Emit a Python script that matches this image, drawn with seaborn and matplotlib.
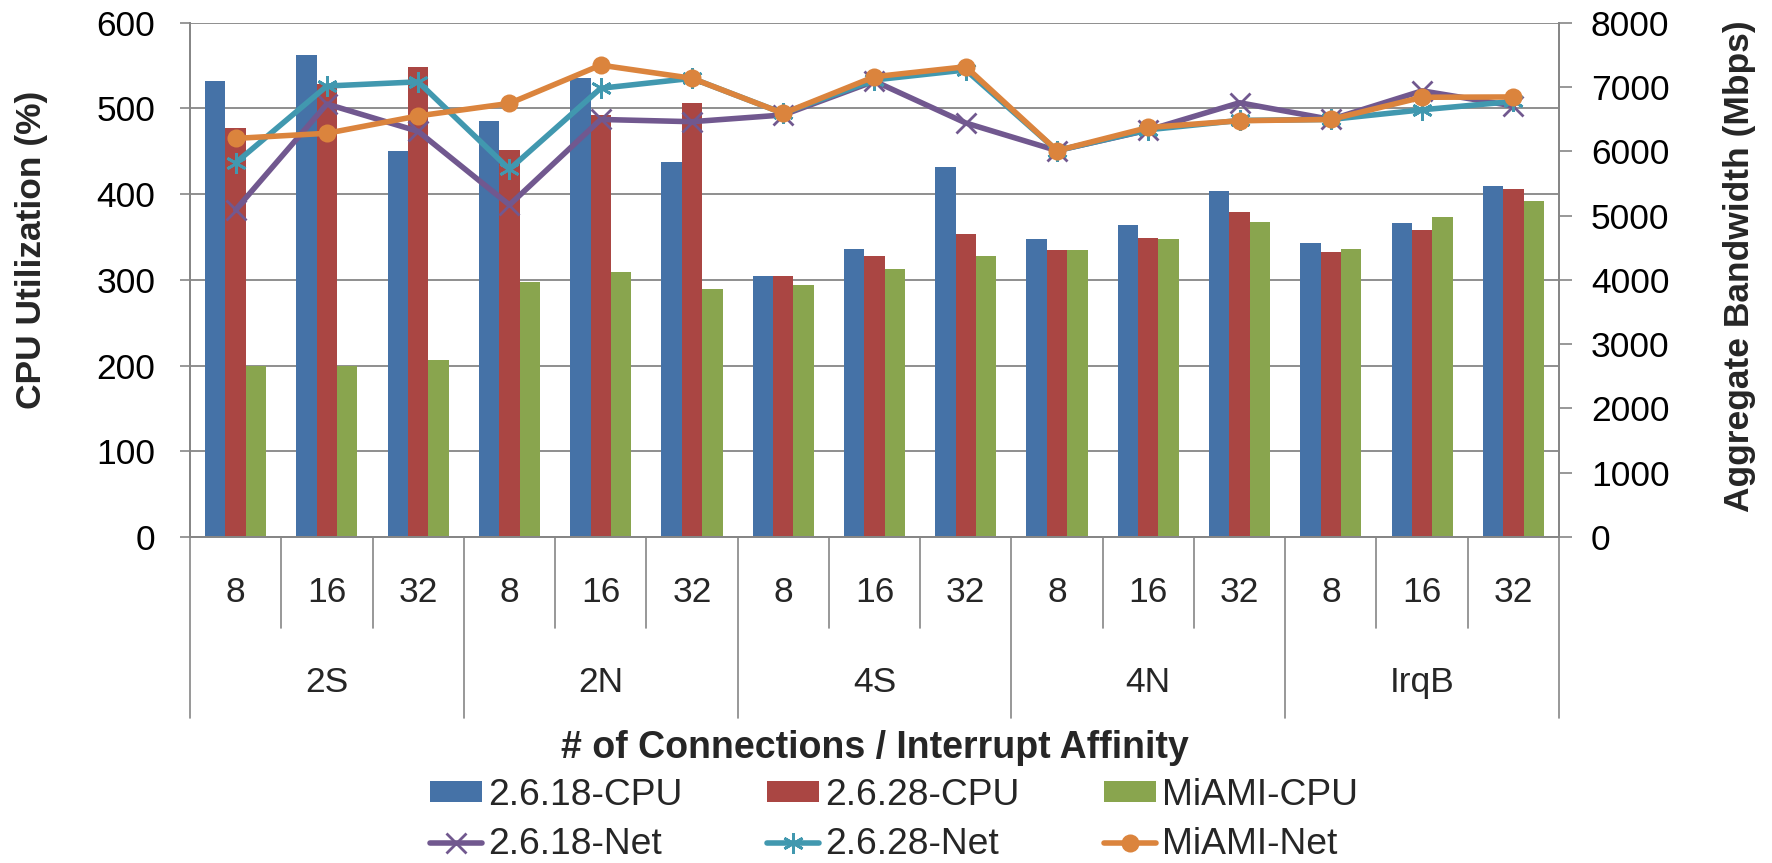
import numpy as np
import pandas as pd
import matplotlib
matplotlib.use("Agg")
import matplotlib.pyplot as plt
import matplotlib.transforms as mtransforms
from matplotlib.lines import Line2D
import seaborn as sns

# ---- data -------------------------------------------------------------
affinity = ["2S", "2N", "4S", "4N", "IrqB"]
connections = ["8", "16", "32"]

cpu_series = ["2.6.18-CPU", "2.6.28-CPU", "MiAMI-CPU"]
cpu_2618 = [532, 562, 450, 485, 535, 437, 304, 336, 432, 348, 364, 404, 343, 366, 410]
cpu_2628 = [477, 529, 548, 452, 492, 506, 305, 328, 353, 335, 349, 379, 332, 358, 406]
cpu_miami = [200, 200, 206, 297, 309, 289, 294, 313, 328, 335, 348, 368, 336, 373, 392]

net_series = ["2.6.18-Net", "2.6.28-Net", "MiAMI-Net"]
net_2618 = [5090, 6735, 6310, 5165, 6495, 6460, 6565, 7090, 6440, 6010, 6330, 6755, 6495, 6940, 6705]
net_2628 = [5820, 7015, 7080, 5720, 6980, 7135, 6590, 7110, 7265, 6010, 6335, 6480, 6495, 6645, 6775]
net_miami = [6200, 6280, 6550, 6745, 7340, 7135, 6590, 7160, 7315, 6010, 6370, 6475, 6495, 6840, 6845]

cpu_ticks = [0, 100, 200, 300, 400, 500, 600]
net_ticks = [0, 1000, 2000, 3000, 4000, 5000, 6000, 7000, 8000]

# ---- styling ----------------------------------------------------------
bar_colors = ["#4572A7", "#AA4643", "#89A54E"]
line_colors = ["#71588F", "#4198AF", "#DB843D"]
line_markers = ["x", (6, 2, 0), "o"]
line_msizes = [15, 15, 13]
grid_gray = "#868686"
FS = 25.5
FS_LEG = 26.8

sns.set_theme(style="white")
plt.rcParams["font.family"] = ["Liberation Sans", "DejaVu Sans"]
plt.rcParams["font.size"] = FS

n_slots = len(affinity) * len(connections)
slots = np.arange(n_slots)

cpu_df = pd.DataFrame({
    "slot": np.tile(slots, 3),
    "value": cpu_2618 + cpu_2628 + cpu_miami,
    "series": np.repeat(cpu_series, n_slots),
})
net_df = pd.DataFrame({
    "slot": np.tile(slots, 3),
    "value": net_2618 + net_2628 + net_miami,
    "series": np.repeat(net_series, n_slots),
})

fig = plt.figure(figsize=(17.72, 8.63), dpi=100)
ax = fig.add_axes([190 / 1772, 1 - 537 / 863, 1369 / 1772, (537 - 22.7) / 863])

sns.barplot(data=cpu_df, x="slot", y="value", hue="series", hue_order=cpu_series,
            order=list(slots), palette=bar_colors, saturation=1, width=0.67,
            linewidth=0, ax=ax)

ax.set_xlim(-0.5, n_slots - 0.5)
ax.set_ylim(0, 600)
ax.set_yticks(cpu_ticks)
ax.set_axisbelow(True)
ax.yaxis.grid(True, color=grid_gray, linewidth=1.3)
ax.xaxis.grid(False)
ax.set_xticks([])
ax.set_xlabel("")
ax.set_ylabel("")
ax.tick_params(axis="y", left=True, length=7, width=1.2, color=grid_gray,
               pad=18, labelsize=FS, labelcolor="black")
for side in ["left", "bottom", "right"]:
    ax.spines[side].set_color(grid_gray)
    ax.spines[side].set_linewidth(1.3)
ax.spines["top"].set_visible(False)

ax2 = ax.twinx()
for name, col, mk, ms in zip(net_series, line_colors, line_markers, line_msizes):
    sub = net_df[net_df["series"] == name]
    sns.lineplot(data=sub, x="slot", y="value", color=col, marker=mk,
                 markersize=ms, markeredgewidth=2.0 if mk != "o" else 0,
                 markeredgecolor=col, markerfacecolor=col, linewidth=4,
                 sort=False, ax=ax2, label=name)
ax2.set_xlim(-0.5, n_slots - 0.5)
ax2.set_ylim(0, 8000)
ax2.set_yticks(net_ticks)
ax2.grid(False)
ax2.set_ylabel("")
ax2.set_xlabel("")
ax2.tick_params(axis="y", right=True, length=9, width=1.2, color=grid_gray,
                pad=14, labelsize=FS, labelcolor="black")
for side in ["left", "bottom", "right"]:
    ax2.spines[side].set_color(grid_gray)
    ax2.spines[side].set_linewidth(1.3)
ax2.spines["top"].set_visible(False)

# ---- two-level category axis -----------------------------------------
trans = mtransforms.blended_transform_factory(ax.transData, fig.transFigure)
y_axis0 = 1 - 537 / 863
for i in slots:
    ax.text(i, 1 - 592 / 863, connections[i % 3], transform=trans,
            ha="center", va="center", fontsize=FS, clip_on=False)
for g, name in enumerate(affinity):
    ax.text(g * 3 + 1, 1 - 682 / 863, name, transform=trans,
            ha="center", va="center", fontsize=FS, clip_on=False)
for k in range(n_slots + 1):
    y_end = 1 - (718 if k % 3 == 0 else 628) / 863
    fig.add_artist(Line2D([k - 0.5, k - 0.5], [y_axis0, y_end], transform=trans,
                          color=grid_gray, linewidth=1.2))

fig.text(0.5 * (190 + 1559) / 1772, 1 - 748 / 863,
         "# of Connections / Interrupt Affinity", ha="center", va="center",
         fontsize=27, fontweight="bold")
fig.text(32 / 1772, 1 - 250 / 863, "CPU Utilization (%)", rotation=90,
         ha="center", va="center", fontsize=FS, fontweight="bold")
fig.text(1739 / 1772, 1 - 266 / 863, "Aggregate Bandwidth (Mbps)", rotation=90,
         ha="center", va="center", fontsize=FS, fontweight="bold")

# ---- legend -----------------------------------------------------------
h1, l1 = ax.get_legend_handles_labels()
h2, l2 = ax2.get_legend_handles_labels()
if ax.get_legend() is not None:
    ax.get_legend().remove()
if ax2.get_legend() is not None:
    ax2.get_legend().remove()
handles, labels = [], []
for a, b, la, lb in zip(h1, h2, l1, l2):
    handles += [a, b]
    labels += [la, lb]
fig.legend(handles, labels, ncol=3, loc="center",
           bbox_to_anchor=(894 / 1772, 1 - 820 / 863), frameon=False,
           fontsize=FS_LEG, handlelength=1.40, handleheight=0.48,
           handletextpad=0.16, columnspacing=2.28, labelspacing=0.4,
           borderpad=0, borderaxespad=0)

fig.savefig("out.png", dpi=100)
